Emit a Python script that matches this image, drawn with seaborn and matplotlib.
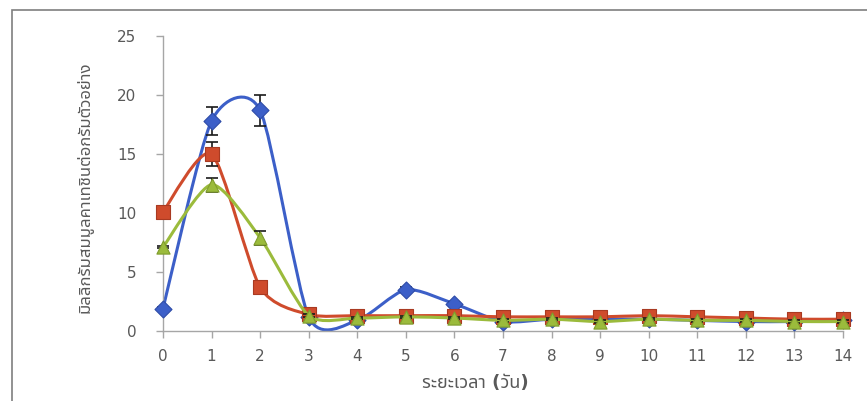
import numpy as np
import pandas as pd
import matplotlib
matplotlib.use("Agg")
import matplotlib.pyplot as plt
from matplotlib.path import Path
from matplotlib.patches import PathPatch, Rectangle
import seaborn as sns

days = list(range(15))
blue_vals = [1.9, 17.8, 18.7, 1.2, 0.9, 3.5, 2.3, 0.8, 1.0, 1.0, 1.0, 0.9, 0.8, 0.8, 0.9]
blue_err = [0.1, 1.2, 1.3, 0.1, 0.1, 0.2, 0.2, 0.1, 0.1, 0.1, 0.1, 0.1, 0.1, 0.1, 0.1]
red_vals = [10.1, 15.0, 3.7, 1.4, 1.3, 1.3, 1.3, 1.2, 1.2, 1.2, 1.3, 1.2, 1.1, 1.0, 1.0]
red_err = [0.2, 1.0, 0.2, 0.1, 0.1, 0.1, 0.1, 0.1, 0.1, 0.1, 0.1, 0.1, 0.1, 0.1, 0.1]
green_vals = [7.1, 12.4, 7.9, 1.3, 1.1, 1.2, 1.1, 0.9, 1.0, 0.8, 1.0, 0.9, 0.9, 0.8, 0.8]
green_err = [0.1, 0.6, 0.6, 0.1, 0.1, 0.1, 0.1, 0.1, 0.1, 0.1, 0.1, 0.1, 0.1, 0.1, 0.1]
y_ticks = [0, 5, 10, 15, 20, 25]
x_label = "ระยะเวลา (วัน)"
y_label = "มิลลิกรัมสมมูลคาเทชินต่อกรัมตัวอย่าง"

series = [
    ("A", blue_vals, blue_err, "#3C5FC8", "#2E4CA8", "D", 75),
    ("B", red_vals, red_err, "#CF4B2C", "#A93A22", "s", 100),
    ("C", green_vals, green_err, "#9BBB3C", "#7F9C2C", "^", 90),
]

sns.set_theme(style="white")
thai_fonts = ["DejaVu Sans", "Noto Sans Thai", "Noto Sans Thai UI", "Loma", "Garuda",
              "Tlwg Typo", "Norasi", "Noto Serif Thai", "Noto Sans"]
plt.rcParams["font.family"] = thai_fonts

fig = plt.figure(figsize=(8.67, 4.01), dpi=100)
W, H = 867, 401
ax = fig.add_axes([163 / W, 1 - 331 / H, (843 - 163) / W, (331 - 36) / H])

# outer chart border
fig.patches.append(Rectangle((12 / W, -0.05), 1.1, 1 - 10 / H + 0.05, transform=fig.transFigure,
                             fill=False, edgecolor="#7f7f7f", linewidth=1.2))


def smooth_path(xs, ys, k=0.12):
    pts = np.column_stack([xs, ys]).astype(float)
    n = len(pts)
    verts = [pts[0]]
    codes = [Path.MOVETO]
    for i in range(n - 1):
        p0 = pts[i - 1] if i > 0 else pts[i]
        p1 = pts[i]
        p2 = pts[i + 1]
        p3 = pts[i + 2] if i + 2 < n else pts[i + 1]
        c1 = p1 + (p2 - p0) * k
        c2 = p2 - (p3 - p1) * k
        verts += [c1, c2, p2]
        codes += [Path.CURVE4] * 3
    return Path(verts, codes)


rows = []
for name, vals, errs, col, ecol, mk, sz in series:
    for d, v in zip(days, vals):
        rows.append({"day": d, "value": v, "series": name})
df = pd.DataFrame(rows)

for z, (name, vals, errs, col, ecol, mk, sz) in enumerate(series):
    ax.add_patch(PathPatch(smooth_path(days, vals), facecolor="none", edgecolor=col,
                           linewidth=2.2, zorder=2 + z * 3, clip_on=False))
    ax.errorbar(days, vals, yerr=errs, fmt="none", ecolor="#1a1a1a", elinewidth=1.2,
                capsize=4, capthick=1.2, zorder=3 + z * 3, clip_on=False)
    sub = df[df["series"] == name]
    sns.scatterplot(data=sub, x="day", y="value", marker=mk, s=sz, color=col,
                    edgecolor=ecol, linewidth=0.8, ax=ax, zorder=4 + z * 3,
                    clip_on=False, legend=False)

ax.set_xlim(0, 14)
ax.set_ylim(0, 25)
ax.set_xticks(days)
ax.set_xticklabels([str(d) for d in days])
ax.set_yticks(y_ticks)
ax.set_yticklabels([str(t) for t in y_ticks])
for s in ["top", "right"]:
    ax.spines[s].set_visible(False)
for s in ["left", "bottom"]:
    ax.spines[s].set_color("#a6a6a6")
    ax.spines[s].set_linewidth(1.0)
ax.tick_params(axis="both", which="major", direction="out", length=5, width=1.0,
               color="#a6a6a6", labelcolor="#595959", labelsize=11, bottom=True, left=True)
ax.tick_params(axis="x", pad=8)
ax.tick_params(axis="y", pad=14)
ax.set_xlabel(x_label, fontsize=13, fontweight="bold", color="#595959", va="center")
ax.set_ylabel(y_label, fontsize=12, fontweight="bold", color="#595959")
ax.xaxis.set_label_coords((475 - 163) / (843 - 163), -(383 - 331) / (331 - 36))
ax.yaxis.set_label_coords(-(163 - 93) / (843 - 163), (331 - 187) / (331 - 36))
ax.set_facecolor("white")
fig.patch.set_facecolor("white")

fig.savefig("out.png", dpi=100, facecolor="white")
